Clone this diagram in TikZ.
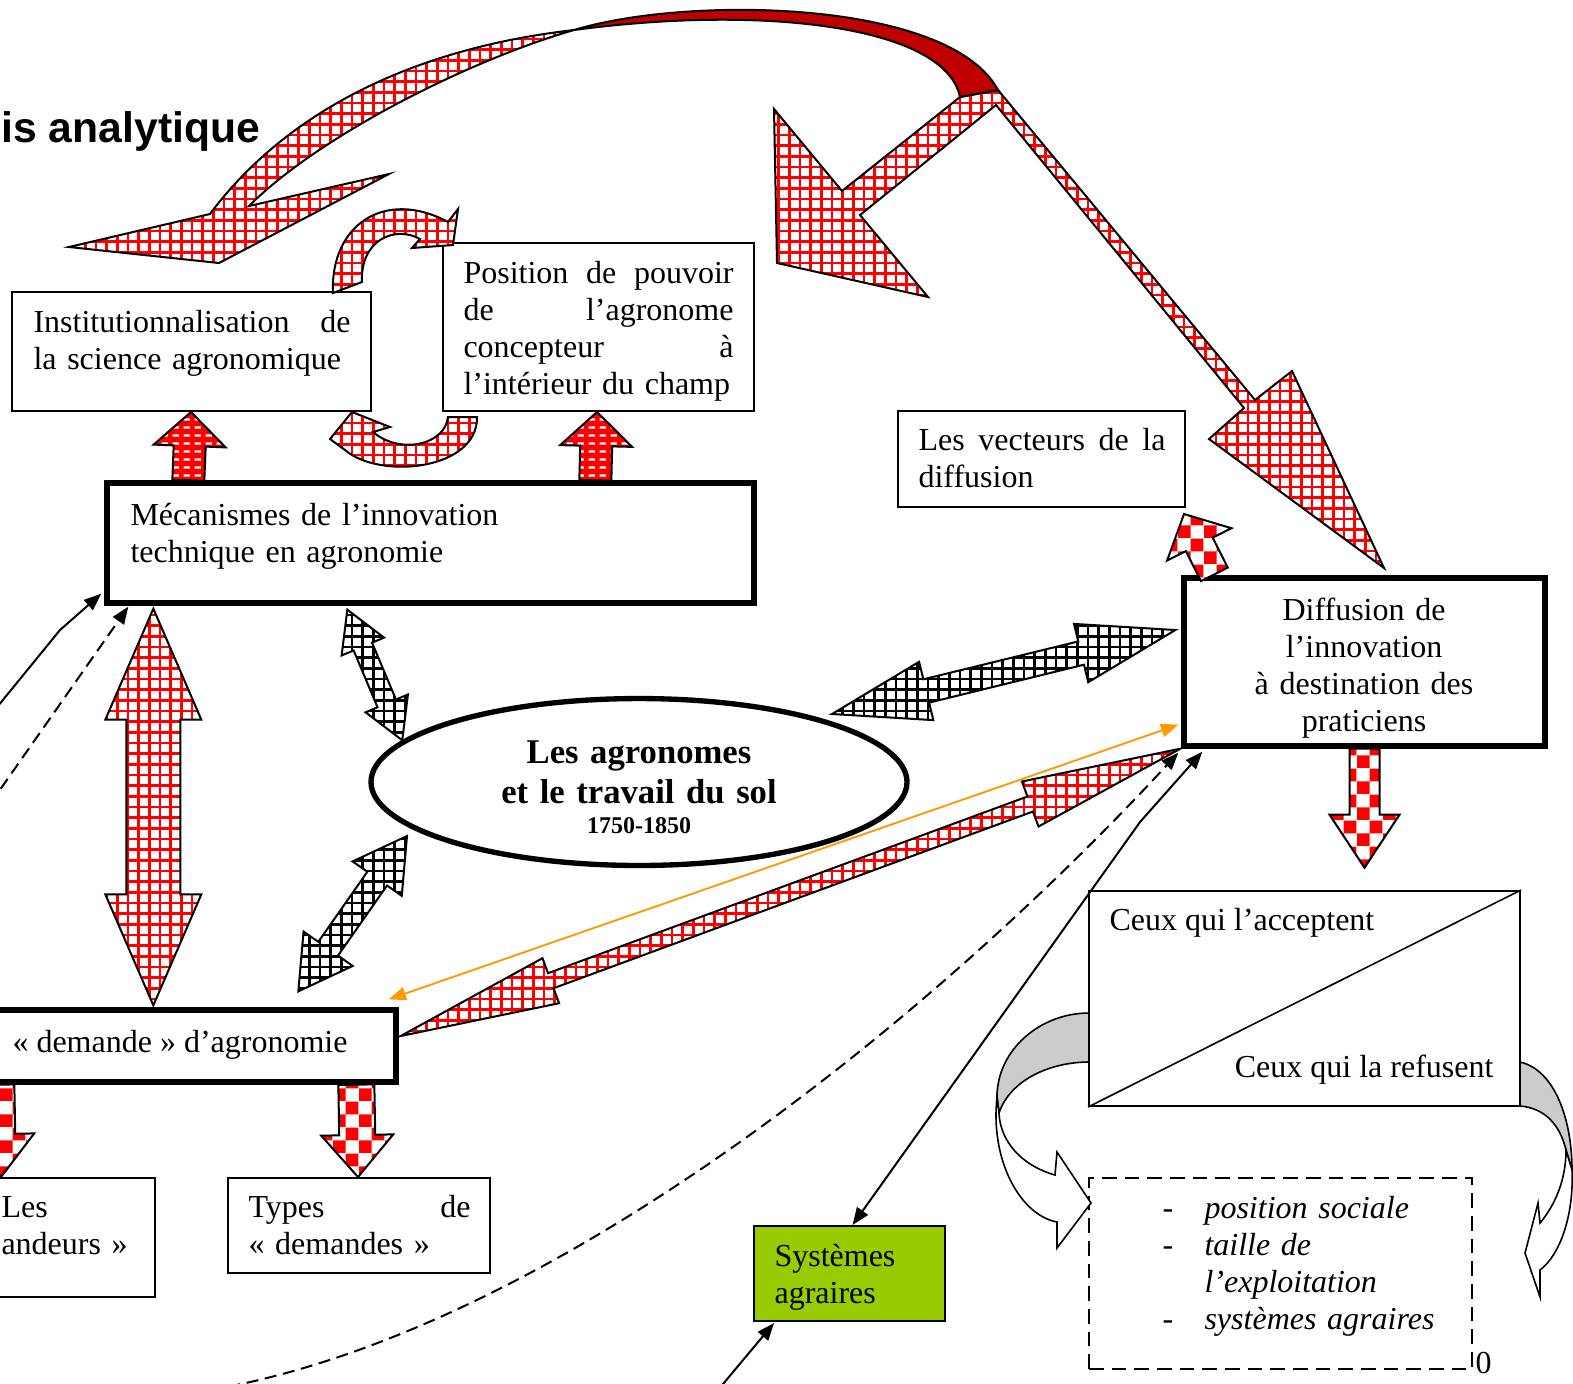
\documentclass[tikz,border=0pt]{standalone}
\usepackage{fontspec}
\setmainfont{Liberation Serif}
\newfontfamily\headfont{Liberation Sans}
\usetikzlibrary{calc,fit,patterns,arrows.meta,shapes.geometric}

\definecolor{bandred}{RGB}{192,0,0}
\definecolor{agrigreen}{RGB}{153,204,0}
\definecolor{linkorange}{RGB}{255,153,0}
\definecolor{shadegray}{RGB}{204,204,204}

\newcommand\pxu{0.375pt}
\newcommand\jfill{\hskip 0pt plus 1filll\relax}

\pgfdeclarepatternformonly{gridpat}{\pgfqpoint{-1pt}{-1pt}}{\pgfqpoint{5pt}{5pt}}{\pgfqpoint{4pt}{4pt}}{%
  \pgfsetlinewidth{0.9pt}%
  \pgfpathmoveto{\pgfqpoint{0pt}{0pt}}\pgfpathlineto{\pgfqpoint{0pt}{4.1pt}}%
  \pgfpathmoveto{\pgfqpoint{0pt}{0pt}}\pgfpathlineto{\pgfqpoint{4.1pt}{0pt}}%
  \pgfusepath{stroke}}
\pgfdeclarepatternformonly{checkpat}{\pgfpointorigin}{\pgfqpoint{9.6pt}{9.6pt}}{\pgfqpoint{9.6pt}{9.6pt}}{%
  \pgfpathrectangle{\pgfpointorigin}{\pgfqpoint{4.8pt}{4.8pt}}%
  \pgfpathrectangle{\pgfqpoint{4.8pt}{4.8pt}}{\pgfqpoint{4.8pt}{4.8pt}}%
  \pgfusepath{fill}}
\pgfdeclarepatternformonly{dashpat}{\pgfpointorigin}{\pgfqpoint{4pt}{3pt}}{\pgfqpoint{4pt}{3pt}}{%
  \pgfpathrectangle{\pgfqpoint{0.6pt}{1pt}}{\pgfqpoint{2.4pt}{0.9pt}}%
  \pgfusepath{fill}}

% block arrow with two heads: style, tip, tip, half shaft, half head, head length
\newcommand\dblarrow[6]{%
  \coordinate (baA) at (#2);
  \coordinate (baB) at (#3);
  \coordinate (baP) at ($(baA)!#6*\pxu!(baB)$);
  \coordinate (baQ) at ($(baB)!#6*\pxu!(baA)$);
  \draw[#1] (baA) -- ($(baP)!#5*\pxu!90:(baB)$) -- ($(baP)!#4*\pxu!90:(baB)$)
    -- ($(baQ)!#4*\pxu!-90:(baA)$) -- ($(baQ)!#5*\pxu!-90:(baA)$) -- (baB)
    -- ($(baQ)!#5*\pxu!90:(baA)$) -- ($(baQ)!#4*\pxu!90:(baA)$)
    -- ($(baP)!#4*\pxu!-90:(baB)$) -- ($(baP)!#5*\pxu!-90:(baB)$) -- cycle;
}
% block arrow with one head: style, tail, tip, half shaft, half head, head length
\newcommand\onearrow[6]{%
  \coordinate (baA) at (#2);
  \coordinate (baB) at (#3);
  \coordinate (baQ) at ($(baB)!#6*\pxu!(baA)$);
  \draw[#1] ($(baA)!#4*\pxu!90:(baB)$) -- ($(baQ)!#4*\pxu!-90:(baA)$)
    -- ($(baQ)!#5*\pxu!-90:(baA)$) -- (baB) -- ($(baQ)!#5*\pxu!90:(baA)$)
    -- ($(baQ)!#4*\pxu!90:(baA)$) -- ($(baA)!#4*\pxu!-90:(baB)$) -- cycle;
}

\tikzset{
  txt/.style={font=\fontsize{12}{13.9}\selectfont, inner sep=0pt, anchor=base west},
  thinbox/.style={draw, line width=0.75pt, inner sep=0pt},
  thickbox/.style={draw, line width=2pt, inner sep=0pt},
  critbox/.style={thinbox, dash pattern=on 5.5pt off 3pt},
  redgrid/.style={draw, line width=0.75pt, preaction={fill=white}, pattern=gridpat, pattern color=red},
  blackgrid/.style={draw, line width=0.75pt, preaction={fill=white}, pattern=gridpat, pattern color=black},
  redcheck/.style={draw, line width=0.75pt, preaction={fill=white}, pattern=checkpat, pattern color=red},
  reddash/.style={draw, line width=0.75pt, preaction={fill=red}, pattern=dashpat, pattern color=white},
  darkband/.style={draw, line width=0.75pt, fill=bandred},
  grayband/.style={draw, line width=0.6pt, fill=shadegray},
  whiteband/.style={draw, line width=0.6pt, fill=white},
  conn/.style={line width=0.75pt, -{Triangle[length=6.5pt,width=5pt]}},
  dashconn/.style={conn, dash pattern=on 4.5pt off 2.5pt},
  bothconn/.style={line width=0.75pt, {Triangle[length=6.5pt,width=5pt]}-{Triangle[length=6.5pt,width=5pt]}},
  orangeconn/.style={bothconn, draw=linkorange, line width=0.7pt}
}

\begin{document}
\begin{tikzpicture}[x=0.375pt, y=-0.375pt]
      \useasboundingbox (0,0) rectangle (1573,1383);

      \node[thinbox, fit={(12,292) (371,411)}] (inst) {};
      \node[thinbox, fit={(443,243) (754,411)}] (pos) {};
      \node[thickbox, fit={(107,483) (754,603)}] (mec) {};
      \node[thinbox, fit={(898,411) (1185,507)}] (vec) {};
      \node[thickbox, fit={(1184,578) (1545,746)}] (diff) {};
      \node[thickbox, fit={(-8,1010) (396,1082)}] (dem) {};
      \node[thinbox, fit={(-8,1178) (155,1297)}] (les) {};
      \node[thinbox, fit={(228,1178) (490,1273)}] (types) {};
      \node[thinbox, fill=agrigreen, fit={(754,1226) (945,1321)}] (sys) {};
      \node[thinbox, fit={(1089,891) (1520,1106)}] (ceux) {};
      \node[critbox, fit={(1089,1178) (1472,1369)}] (crit) {};
      \node[draw, ellipse, line width=2pt, minimum width=201pt, minimum height=62.6pt, inner sep=0pt] (agro) at (639,782) {};
      \draw[line width=0.6pt] (ceux.south west) -- (ceux.north east);

      \draw[redgrid] (960,97) -- (842,191) -- (774,109) -- (777,263) -- (928,297) -- (860,215)
        -- (996,105) -- (1244,408) -- (1209,439) -- (1384,568) -- (1292,371) -- (1255,400)
        -- (998,90) -- cycle;
      \draw[darkband] (574,30) .. controls (690,-5) and (950,0) .. (998,90) -- (960,97)
        .. controls (945,25) and (760,5) .. (574,30) -- cycle;
      \draw[redgrid] (69,247) -- (210,214) .. controls (280,120) and (400,50) .. (574,30)
        .. controls (470,60) and (320,135) .. (249,206) -- (389,174) -- (219,263) -- cycle;

      \draw[redgrid] (333,293) .. controls (330,225) and (385,188) .. (448,222) -- (458,209)
        -- (453,245) -- (412,248) -- (420,239) .. controls (395,225) and (360,240) .. (362,282) -- cycle;
      \draw[redgrid] (477,417) .. controls (478,470) and (380,480) .. (345,450) -- (330,439)
        -- (352,412) -- (390,427) -- (373,432) .. controls (400,455) and (445,445) .. (448,417) -- cycle;

      \onearrow{reddash}{$(mec.north west)+(84,0)$}{$(inst.south west)+(180,0)$}{16}{36}{34}
      \onearrow{reddash}{$(mec.north west)+(491,0)$}{$(pos.south west)+(155,0)$}{16}{36}{34}
      \dblarrow{redgrid}{$(mec.south west)+(49,3)$}{$(dem.north west)+(164,-2)$}{27}{48}{111}
      \dblarrow{blackgrid}{$(mec.south west)+(243,4)$}{agro.170}{10}{23}{40}
      \dblarrow{blackgrid}{$(agro.center)+(-232,54)$}{$(dem.north west)+(309,-16)$}{12}{30}{52}
      \dblarrow{blackgrid}{$(agro.center)+(193,-68)$}{$(diff.west)+(-6,-32)$}{12}{30}{97}
      \dblarrow{redgrid}{$(dem.east)+(2,-10)$}{$(diff.south west)+(-1,0)$}{8}{24}{160}
      \onearrow{redcheck}{diff.south}{$(diff.south)+(0,119)$}{15}{35}{53}
      \onearrow{redcheck}{$(diff.north west)+(33,-1)$}{$(vec.south east)+(-2,6)$}{15}{36}{34}
      \onearrow{redcheck}{$(dem.south west)+(10,0)$}{$(les.north west)+(10,0)$}{15}{34}{43}
      \onearrow{redcheck}{$(dem.south west)+(367,0)$}{$(types.north west)+(131,0)$}{18}{36}{42}

      \draw[grayband] (1089,1013) .. controls (1040,1013) and (997,1050) .. (997,1097) -- (999,1113)
        .. controls (1010,1080) and (1050,1062) .. (1089,1062) -- cycle;
      \draw[whiteband] (997,1097) .. controls (990,1160) and (1020,1215) .. (1057,1222) -- (1057,1248)
        -- (1091,1203) -- (1057,1152) -- (1055,1175) .. controls (1020,1165) and (1000,1140) .. (999,1113) -- cycle;
      \draw[grayband] (1520,1062) .. controls (1555,1070) and (1572,1120) .. (1572,1170) -- (1566,1150)
        .. controls (1560,1125) and (1545,1108) .. (1520,1106) -- cycle;
      \draw[whiteband] (1572,1170) .. controls (1574,1215) and (1560,1255) .. (1540,1270) -- (1540,1297)
        -- (1525,1253) -- (1538,1203) -- (1540,1223) .. controls (1555,1205) and (1566,1180) .. (1566,1150) -- cycle;

      \coordinate (edgeA) at (-20,728);
      \coordinate (kneeA) at (60,630);
      \coordinate (edgeB) at (-10,804);
      \coordinate (edgeC) at (210,1390);
      \coordinate (kneeD) at (1140,822);
      \coordinate (edgeE) at (718,1390);
      \draw[conn] (edgeA) -- (kneeA) -- ($(mec.south west)+(-3,-12)$);
      \draw[dashconn] (edgeB) -- ($(mec.south west)+(24,1)$);
      \draw[dashconn] (edgeC) .. controls (560,1330) and (950,1000) .. ($(diff.south west)+(-3,4)$);
      \draw[bothconn] ($(sys.north)+(3,0)$) -- (kneeD) -- ($(diff.south west)+(21,3)$);
      \draw[conn] (edgeE) -- ($(sys.south west)+(21,1)$);
      \draw[orangeconn] ($(dem.north east)+(-10,-8)$) -- ($(diff.south west)+(-3,-24)$);

      \node[anchor=base west, inner sep=0pt, font={\headfont\bfseries\fontsize{16}{19}\selectfont}] (title) at (1,142) {is analytique};
      \node[txt, text width=118.9pt] (instT) at (33,332) {Institutionnalisation\jfill de\\la science agronomique};
      \node[txt, text width=101.25pt] (posT) at (463,283) {Position\jfill de\jfill pouvoir\\de\jfill l’agronome\\concepteur\jfill à\\l’intérieur du champ};
      \node[txt, text width=230pt] (mecT) at (130,525) {Mécanismes de l’innovation\\technique en agronomie};
      \node[txt, text width=92.6pt] (vecT) at (918,450) {Les\jfill vecteurs\jfill de\jfill la\\diffusion};
      \node[txt, anchor=base, text width=130pt, align=center] (diffT) at (1364,620) {Diffusion de\\l’innovation\\à destination des\\praticiens};
      \node[txt, anchor=base, text width=150pt, align=center, font=\fontsize{13}{15}\selectfont\bfseries] (agroT) at (639,763) {Les agronomes\\et le travail du sol\\[-3.75pt]{\fontsize{9}{10}\selectfont 1750-1850}};
      \node[txt] (demT) at (12,1052) {« demande » d’agronomie};
      \node[txt, text width=60pt] (lesT) at (1,1217) {Les\\andeurs »};
      \node[txt, text width=83.25pt] (typesT) at (248,1217) {Types\jfill de\\«~demandes~»};
      \node[txt, text width=60pt] (sysT) at (774,1266) {Systèmes\\agraires};
      \node[txt] (acceptT) at (1109,930) {Ceux qui l’acceptent};
      \node[txt, anchor=base east] (refuseT) at (1494,1077) {Ceux qui la refusent};
      \node[txt, text width=120pt] (critT) at (1162,1218) {\makebox[15.75pt][l]{-}\textit{position sociale}\\\makebox[15.75pt][l]{-}\textit{taille de}\\\hspace*{15.75pt}\textit{l’exploitation}\\\makebox[15.75pt][l]{-}\textit{systèmes agraires}};
      \node[txt] (pnum) at (1475,1373) {0};
\end{tikzpicture}
\end{document}
